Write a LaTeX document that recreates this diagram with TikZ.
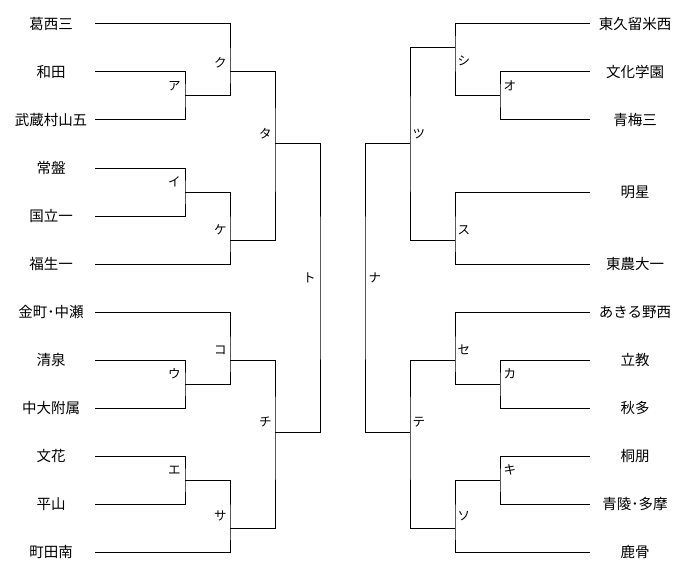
\documentclass[tikz,border=0pt]{standalone}
\usepackage{fontspec}
\newfontfamily\jpfont{Noto Sans CJK JP}
\begin{document}
\begin{tikzpicture}[x=1pt,y=-1pt,line width=1pt,
  team/.style={font=\jpfont\fontsize{14.5}{15}\selectfont,inner sep=0pt,anchor=center},
  lbl/.style={font=\jpfont\fontsize{12.5}{13}\selectfont,inner sep=0pt},
  br/.style={draw=black,line width=1pt}]
\fill[white] (0,0) rectangle (696,575);
\useasboundingbox (0,0) rectangle (696,575);
% left team names
\foreach \i/\t in {1/葛西三,2/和田,3/武蔵村山五,4/常盤,5/国立一,6/福生一,7/金町･中瀬,8/清泉,9/中大附属,10/文花,11/平山,12/町田南}{
  \node[team] (nL\i) at (51,{24+48*(\i-1)}) {\t};
  \coordinate (L\i) at (95,{24+48*(\i-1)});
}
% right team names
\foreach \i/\y/\t in {1/24/東久留米西,2/72/文化学園,3/120/青梅三,4/192/明星,5/264/東農大一,6/312/あきる野西,7/360/立教,8/408/秋多,9/456/桐朋,10/504/青陵･多摩,11/552/鹿骨}{
  \node[team] (nR\i) at (635,\y) {\t};
  \coordinate (R\i) at (590,\y);
}
% left junctions
\coordinate (A) at (185,96);
\coordinate (K) at (230,72);
\coordinate (I) at (185,192);
\coordinate (Ke) at (230,240);
\coordinate (Ta) at (275,144);
\coordinate (To) at (320,288);
\coordinate (U) at (185,384);
\coordinate (Ko) at (230,360);
\coordinate (E) at (185,480);
\coordinate (Sa) at (230,528);
\coordinate (Chi) at (275,432);
% right junctions
\coordinate (O) at (500,96);
\coordinate (Shi) at (455,48);
\coordinate (Su) at (455,240);
\coordinate (Tsu) at (410,144);
\coordinate (Na) at (365,288);
\coordinate (Ka) at (500,384);
\coordinate (Se) at (455,360);
\coordinate (Ki) at (500,480);
\coordinate (So) at (455,528);
\coordinate (Te) at (410,432);
% left brackets
\draw[br] (L2) -| (A) |- (L3);
\draw[br] (L1) -| (K) |- (A);
\draw[br] (L4) -| (I) |- (L5);
\draw[br] (I) -| (Ke) |- (L6);
\draw[br] (K) -| (Ta) |- (Ke);
\draw[br] (Ta) -| (To) |- (Chi);
\draw[br] (L8) -| (U) |- (L9);
\draw[br] (L7) -| (Ko) |- (U);
\draw[br] (L10) -| (E) |- (L11);
\draw[br] (E) -| (Sa) |- (L12);
\draw[br] (Ko) -| (Chi) |- (Sa);
% right brackets
\draw[br] (R2) -| (O) |- (R3);
\draw[br] (R1) -| (Shi) |- (O);
\draw[br] (R4) -| (Su) |- (R5);
\draw[br] (Shi) -| (Tsu) |- (Su);
\draw[br] (Tsu) -| (Na) |- (Te);
\draw[br] (R7) -| (Ka) |- (R8);
\draw[br] (R6) -| (Se) |- (Ka);
\draw[br] (R9) -| (Ki) |- (R10);
\draw[br] (Ki) -| (So) |- (R11);
\draw[br] (Se) -| (Te) |- (So);
% left labels
\node[lbl,anchor=east] (lA) at (181,86) {ア};
\node[lbl,anchor=east] (lK) at (227,63) {ク};
\node[lbl,anchor=east] (lI) at (181,182) {イ};
\node[lbl,anchor=east] (lKe) at (227,230) {ケ};
\node[lbl,anchor=east] (lTa) at (272,134) {タ};
\node[lbl,anchor=east] (lTo) at (316,278) {ト};
\node[lbl,anchor=east] (lU) at (181,374) {ウ};
\node[lbl,anchor=east] (lKo) at (227,350) {コ};
\node[lbl,anchor=east] (lE) at (181,470) {エ};
\node[lbl,anchor=east] (lSa) at (227,516) {サ};
\node[lbl,anchor=east] (lChi) at (272,422) {チ};
% right labels
\node[lbl,anchor=west] (lO) at (503,86) {オ};
\node[lbl,anchor=west] (lShi) at (457,61) {シ};
\node[lbl,anchor=west] (lSu) at (457,230) {ス};
\node[lbl,anchor=west] (lTsu) at (412,134) {ツ};
\node[lbl,anchor=west] (lNa) at (368,278) {ナ};
\node[lbl,anchor=west] (lKa) at (503,374) {カ};
\node[lbl,anchor=west] (lSe) at (457,350) {セ};
\node[lbl,anchor=west] (lKi) at (503,470) {キ};
\node[lbl,anchor=west] (lSo) at (457,516) {ソ};
\node[lbl,anchor=west] (lTe) at (412,422) {テ};
\end{tikzpicture}
\end{document}
